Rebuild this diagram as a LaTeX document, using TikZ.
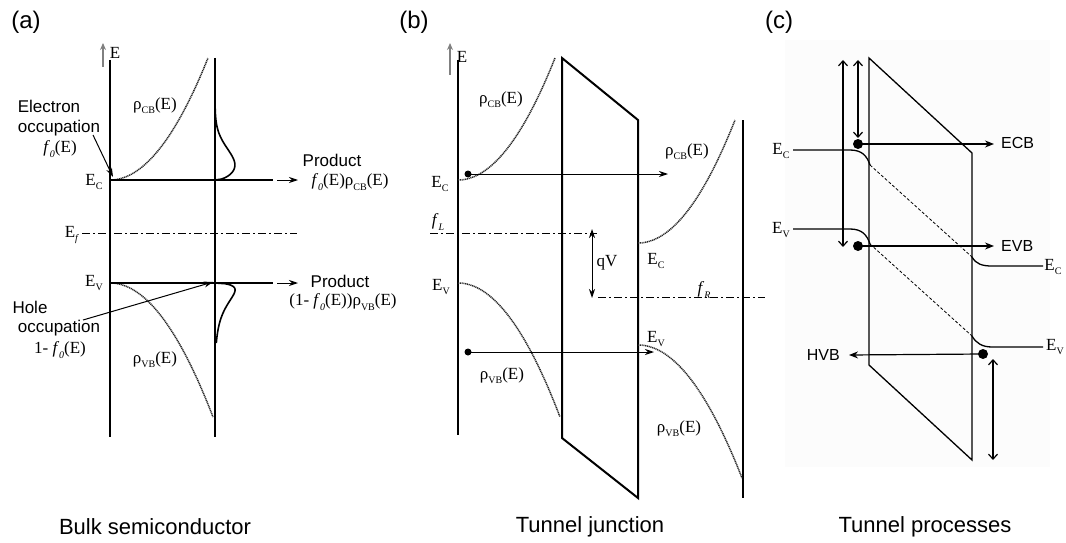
\documentclass[tikz,border=0pt]{standalone}
\usepackage{fontspec}
\setmainfont{Liberation Serif}
\newfontfamily\sansf{Liberation Sans}
\usetikzlibrary{arrows.meta}
\newcommand\ssub[1]{\raisebox{-0.25em}{\fontsize{10}{10}\selectfont #1}}
\newcommand\fo{\textit{f}\ssub{\textit{0}}}
\begin{document}
\begin{tikzpicture}[x=1pt,y=-1pt,
  lab/.style={font=\fontsize{17}{19}\selectfont, inner sep=0pt},
  slab/.style={font=\sansf\fontsize{17}{20}\selectfont, inner sep=0pt},
  clab/.style={font=\sansf\fontsize{16}{19}\selectfont, inner sep=0pt},
  caption/.style={font=\sansf\fontsize{22}{26}\selectfont, inner sep=0pt},
  panel/.style={font=\sansf\fontsize{24}{28}\selectfont, inner sep=0pt},
  band/.style={line width=2pt},
  dos/.style={dash pattern=on 1.1pt off 0.7pt, line width=1.5pt, black!85},
  occ/.style={line width=1.6pt},
  arr/.style={line width=1pt, -{Stealth[length=9pt,width=6pt]}},
  dashdot/.style={line width=0.8pt, dash pattern=on 8pt off 3pt on 2pt off 3pt},
  eaxis/.style={gray, line width=1.5pt, -{Stealth[length=7pt,width=6pt]}},
  cline/.style={line width=1.3pt},
  dbl/.style={line width=1.2pt, {Straight Barb[length=5pt,width=9pt]}-{Straight Barb[length=5pt,width=9pt]}},
  carr/.style={line width=1.2pt, -{Stealth[length=9pt,width=7pt]}},
  dot/.style={circle, fill=black, inner sep=0pt, minimum size=#1},
  dot/.default=8pt
]
\useasboundingbox (0,0) rectangle (1066,543);

% ================= (a) =================
\node[panel] (pa) at (26,22) {(a)};
\draw[eaxis] (103,67) -- (103,43);
\node[lab] (aE) at (115,53) {E};
\draw[band] (110,60) -- (110,437);
\draw[band] (215,58) -- (215,437);
% DOS
\draw[dos] plot[domain=0:98,samples=60] ({110+\x},{180-122*(\x/98)*(\x/98)});
\draw[dos] plot[domain=0:103,samples=60] ({110+\x},{283+134*(\x/103)*(\x/103)});
% occupations
\draw[occ] plot[domain=0:80,samples=90] ({215+6.6*sqrt(\x)*exp(-(\x/30)*(\x/30))},{180-\x});
\draw[occ] plot[domain=0:60,samples=90] ({215+12.5*sqrt(\x)*exp(-\x/14)},{283+\x});
% arrows
\coordinate (aC1) at (110,180); \coordinate (aC2) at (273,180);
\coordinate (aC3) at (277,180); \coordinate (aC4) at (298,180);
\draw[line width=1.2pt] (aC1) -- (aC2);
\draw[arr] (aC3) -- (aC4);
\coordinate (aV1) at (110,283); \coordinate (aV2) at (273,283);
\coordinate (aV3) at (277,283); \coordinate (aV4) at (298,283);
\draw[line width=1.2pt] (aV1) -- (aV2);
\draw[arr] (aV3) -- (aV4);
\draw[dashdot] (82,233) -- (297,233);
% labels
\node[slab] (ael) at (49,106) {Electron};
\node[slab] (aoc) at (59,128) {occupation};
\node[lab] (af) at (60,149) {\fo(E)};
\draw[arr] (93,135) -- (113,177);
\node[lab] (aEc) at (94,182) {E\ssub{C}};
\node[lab] (arcb) at (155,106) {ρ\ssub{CB}(E)};
\node[slab] (ap1) at (332,160) {Product};
\node[lab] (apf1) at (350,182) {\fo(E)ρ\ssub{CB}(E)};
\node[lab] (aEf) at (72,235) {E\ssub{\textit{f}}};
\node[lab] (aEv) at (94,283) {E\ssub{V}};
\node[slab] (ap2) at (340,281) {Product};
\node[lab] (apf2) at (343,302) {(1- \fo(E))ρ\ssub{VB}(E)};
\node[slab] (aho) at (30,307) {Hole};
\node[slab] (aoc2) at (59,328) {occupation};
\node[lab] (af2) at (60,350) {1- \fo(E)};
\draw[arr] (83,320) -- (213,282);
\node[lab] (arvb) at (155,360) {ρ\ssub{VB}(E)};
\node[caption] (capa) at (155,527) {Bulk semiconductor};

% ================= (b) =================
\node[panel] (pb) at (414,22) {(b)};
\draw[eaxis] (450,75) -- (450,43);
\node[lab] (bE) at (462,57) {E};
\draw[band] (458,60) -- (458,435);
\draw[band] (562,58) -- (638,120) -- (638,498) -- (562,438) -- cycle;
\draw[band] (743,120) -- (743,498);
\draw[dos] plot[domain=0:97,samples=60] ({458+\x},{180-122*(\x/97)*(\x/97)});
\draw[dos] plot[domain=0:97,samples=60] ({638+\x},{243-123*(\x/97)*(\x/97)});
\draw[dos] plot[domain=0:102,samples=60] ({458+\x},{283+134*(\x/102)*(\x/102)});
\draw[dos] plot[domain=0:104,samples=60] ({638+\x},{345+133*(\x/104)*(\x/104)});
\node[dot=7pt] (bd1) at (468,174) {};
\node[dot=7pt] (bd2) at (468,352) {};
\coordinate (bt1) at (668,174);
\coordinate (bt2) at (654,352);
\draw[arr] (bd1.center) -- (bt1);
\draw[arr] (bd2.center) -- (bt2);
\draw[dashdot] (430,233) -- (597,233);
\draw[dashdot] (598,297) -- (765,297);
\draw[line width=1pt, {Stealth[length=9pt,width=6pt]}-{Stealth[length=9pt,width=6pt]}] (592,229) -- (592,298);
\node[lab] (bqv) at (607,263) {qV};
\node[lab] (bEc1) at (440,184) {E\ssub{C}};
\node[lab] (bfl) at (438,222) {\textit{f}\ssub{\textit{L}}};
\node[lab] (brcb1) at (501,100) {ρ\ssub{CB}(E)};
\node[lab] (brcb2) at (687,152) {ρ\ssub{CB}(E)};
\node[lab] (bEc2) at (656,261) {E\ssub{C}};
\node[lab] (bfr) at (704,290) {\textit{f}\ssub{\textit{R}}};
\node[lab] (bEv1) at (441,287) {E\ssub{V}};
\node[lab] (bEv2) at (656,339) {E\ssub{V}};
\node[lab] (brvb1) at (502,376) {ρ\ssub{VB}(E)};
\node[lab] (brvb2) at (679,429) {ρ\ssub{VB}(E)};
\node[caption] (capb) at (590,527) {Tunnel junction};

% ================= (c) =================
\fill[black!1] (785,40) rectangle (1050,467);
\node[panel] (pc) at (779,22) {(c)};
\draw[cline] (869,58) -- (972,153) -- (972,460) -- (869,365) -- cycle;
% Ec
\draw[cline] (793,150) -- (850,150) .. controls (862,150) and (867,156) .. (870,165);
\draw[line width=0.8pt, densely dashed] (870,165) -- (972,257);
\draw[cline] (972,257) .. controls (976,264) and (982,266) .. (992,266) -- (1043,266);
% Ev
\draw[cline] (793,229) -- (850,229) .. controls (862,229) and (867,235) .. (870,244);
\draw[line width=0.8pt, densely dashed] (870,244) -- (972,336);
\draw[cline] (972,336) .. controls (976,343) and (982,347) .. (992,347) -- (1043,347);
% particles
\node[dot=10pt] (cd1) at (858,144) {};
\node[dot=10pt] (cd2) at (858,246) {};
\node[dot=10pt] (cd3) at (983,354) {};
\node[clab, anchor=west] (cecb) at (1001,143) {ECB};
\node[clab, anchor=west] (cevb) at (1001,246) {EVB};
\node[clab, anchor=east] (chvb) at (840,355) {HVB};
\coordinate (ct1) at (994,144);
\coordinate (ct2) at (994,246);
\coordinate (ct3) at (849,355);
\draw[carr] (cd1.center) -- (ct1);
\draw[carr] (cd2.center) -- (ct2);
\draw[carr] (cd3.center) -- (ct3);
\draw[dbl] (843,60) -- (843,247);
\draw[dbl] (858,60) -- (858,138);
\draw[dbl] (993,359) -- (993,460);
\node[lab] (cEc1) at (781,151) {E\ssub{C}};
\node[lab] (cEv1) at (781,230) {E\ssub{V}};
\node[lab] (cEc2) at (1053,267) {E\ssub{C}};
\node[lab] (cEv2) at (1055,347) {E\ssub{V}};
\node[caption] (capc) at (925,527) {Tunnel processes};
\end{tikzpicture}
\end{document}
